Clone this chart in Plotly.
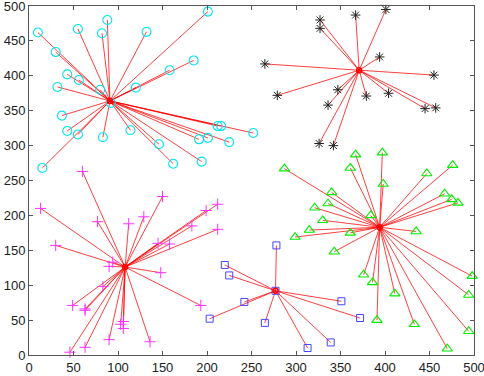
import plotly.graph_objects as go

# cluster centers
centers = {
    "cyan": (91, 364),
    "black": (371, 408),
    "magenta": (108, 126),
    "blue": (277, 92),
    "green": (394, 183),
}

cyan_x = [10, 55, 88, 82, 132, 201, 30, 43, 56, 32, 80, 120, 158, 185, 37, 43, 55, 83, 114, 146, 162, 194, 191, 201, 212, 216, 225, 15, 252, 92]
cyan_y = [462, 467, 480, 461, 463, 492, 434, 402, 394, 384, 380, 383, 408, 422, 343, 321, 316, 312, 322, 302, 274, 277, 309, 311, 328, 328, 305, 268, 318, 361]

black_x = [327, 327, 367, 401, 394, 265, 455, 279, 347, 336, 379, 404, 445, 457, 326, 342]
black_y = [480, 468, 487, 495, 427, 417, 401, 372, 380, 358, 371, 375, 353, 354, 303, 300]

magenta_x = [13, 30, 77, 112, 129, 150, 199, 212, 183, 212, 145, 158, 90, 94, 148, 83, 49, 63, 63, 193, 103, 106, 106, 90, 136, 63, 46, 60]
magenta_y = [210, 157, 191, 188, 198, 227, 207, 216, 185, 180, 160, 159, 127, 133, 118, 98, 71, 66, 64, 71, 44, 48, 38, 22, 19, 11, 4, 263]

blue_x = [220, 225, 203, 242, 278, 265, 313, 339, 351, 372, 277]
blue_y = [129, 114, 52, 76, 157, 46, 10, 18, 77, 53, 92]

green_x = [287, 367, 397, 361, 398, 447, 476, 340, 467, 475, 482, 321, 336, 384, 330, 315, 299, 361, 435, 343, 376, 386, 411, 498, 494, 391, 433, 494, 470]
green_y = [267, 287, 290, 268, 245, 260, 272, 233, 231, 223, 218, 211, 217, 200, 193, 179, 169, 175, 177, 148, 115, 104, 88, 113, 86, 50, 44, 34, 9]

clusters = [
    ("cyan", cyan_x, cyan_y, dict(symbol="circle-open", size=9, color="#00e5ee", line=dict(width=1.1))),
    ("black", black_x, black_y, dict(symbol="asterisk-open", size=8, color="#222222", line=dict(width=1))),
    ("magenta", magenta_x, magenta_y, dict(symbol="cross-thin-open", size=8, color="#ff33ff", line=dict(width=1))),
    ("blue", blue_x, blue_y, dict(symbol="square-open", size=7, color="#4444ff", line=dict(width=1))),
    ("green", green_x, green_y, dict(symbol="triangle-up-open", size=9, color="#00ee00", line=dict(width=1.1))),
]

fig = go.Figure()

for name, xs, ys, mk in clusters:
    cx, cy = centers[name]
    lx, ly = [], []
    for x, y in zip(xs, ys):
        lx += [cx, x, None]
        ly += [cy, y, None]
    fig.add_trace(go.Scatter(x=lx, y=ly, mode="lines",
                             line=dict(color="rgba(255,0,0,0.75)", width=1),
                             hoverinfo="skip", showlegend=False))

for name, xs, ys, mk in clusters:
    fig.add_trace(go.Scatter(x=xs, y=ys, mode="markers", marker=mk,
                             showlegend=False, name=name, cliponaxis=False))

cx_list = [c[0] for c in centers.values()]
cy_list = [c[1] for c in centers.values()]
fig.add_trace(go.Scatter(x=cx_list, y=cy_list, mode="markers",
                         marker=dict(symbol="circle-open", size=5, color="red", line=dict(width=1.5)),
                         showlegend=False))

ticks = list(range(0, 501, 50))
axis_common = dict(range=[0, 500], tickvals=ticks, ticktext=[str(t) for t in ticks],
                   showline=True, linecolor="#555555", linewidth=1, mirror="ticks",
                   ticks="inside", ticklen=4, tickcolor="#555555",
                   showgrid=False, zeroline=False, automargin=False,
                   ticklabeloverflow="allow",
                   tickfont=dict(family="Liberation Sans, Arial, sans-serif", size=13, color="#222222"))

fig.update_layout(
    width=484, height=376,
    margin=dict(l=29, r=10, t=6, b=21, pad=0),
    plot_bgcolor="white", paper_bgcolor="white",
    xaxis=axis_common, yaxis=axis_common,
)

fig.write_html("out.html", config={"displayModeBar": False},
               post_script="document.body.style.margin='0px';document.body.style.overflow='hidden';")
